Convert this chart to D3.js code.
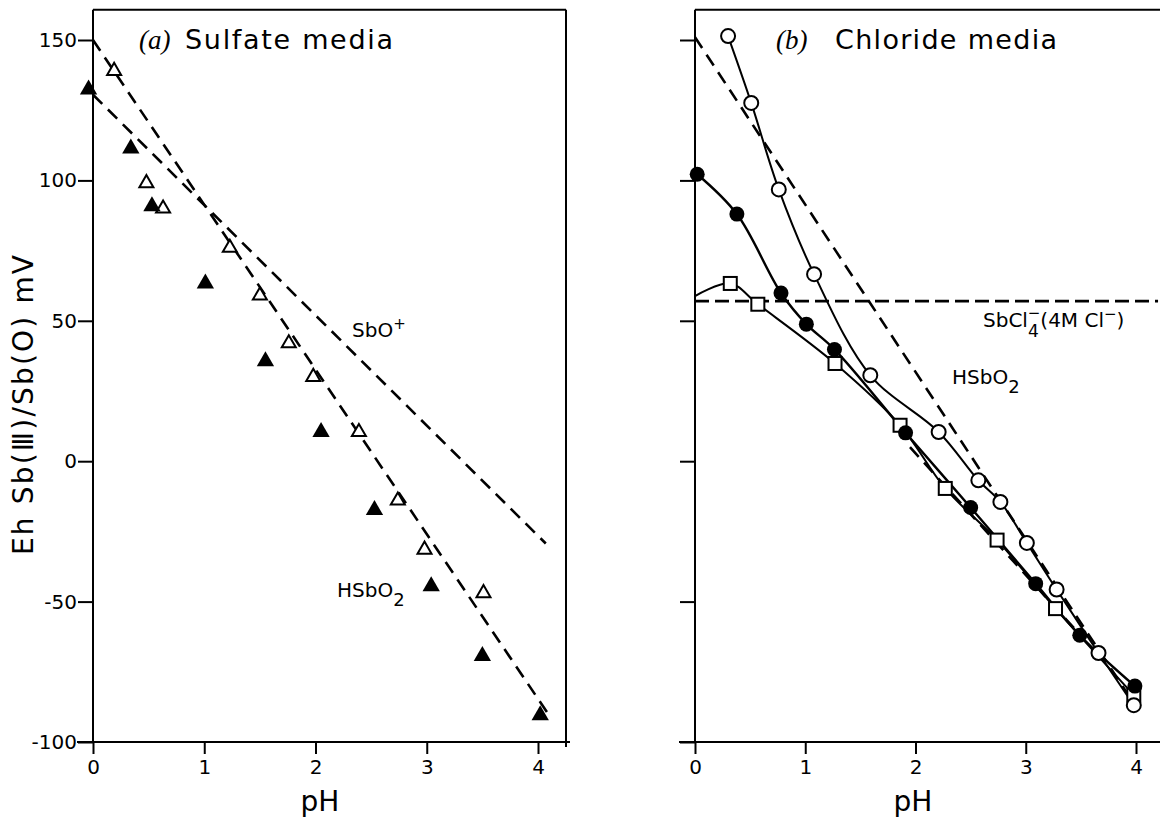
<!DOCTYPE html>
<html><head><meta charset="utf-8">
<script src="https://cdn.jsdelivr.net/npm/d3@7"></script>
<style>
html,body{margin:0;padding:0;background:#fff;}
svg{display:block;}
text{font-family:"DejaVu Sans",sans-serif;fill:#000;}
</style></head>
<body>
<svg id="chart" width="1160" height="818"></svg>
<script>
// ---------- data ----------
const pHTicks = [0, 1, 2, 3, 4];
const ehTicks = [150, 100, 50, 0, -50, -100];
const ehTickLabels = ["150", "100", "50", "0", "-50", "-100"];

// (a) Sulfate media
const sulfOpenTri = [[0.19,139],[0.48,99],[0.63,90],[1.23,76],[1.50,59],[1.76,42],[1.98,30],[2.39,10.4],[2.74,-14],[2.98,-31.5],[3.51,-47]];
const sulfFilledTri = [[-0.04,132.4],[0.34,111.4],[0.53,90.8],[1.01,63.3],[1.55,35.6],[2.05,10.4],[2.53,-17.4],[3.04,-44.5],[3.50,-69.4],[4.02,-90.5]];
const sulfSbOLine = [[0,130.5],[4.07,-29.3]];
const sulfHSbO2Line = [[0,150],[4.08,-89.3]];

// (b) Chloride media
const chlOpenCirc = [[0.30,151.4],[0.51,127.6],[0.76,96.8],[1.08,66.6],[1.59,30.6],[2.21,10.4],[2.57,-6.8],[2.77,-14.5],[3.01,-29.1],[3.28,-45.7],[3.66,-68.3],[3.98,-86.9]];
const chlFilledCirc = [[0.02,102.2],[0.38,88],[0.78,59.9],[1.01,48.8],[1.265,39.8],[1.91,10.1],[2.50,-16.5],[3.09,-43.6],[3.49,-62],[3.99,-80.1]];
const chlSquares = [[0.32,63.3],[0.57,55.9],[1.27,34.8],[1.86,12.8],[2.27,-9.7],[2.74,-28.1],[3.27,-52.5],[3.98,-83.3]];
const chlSquareCurveStart = [0, 58.8];
const chlHSbO2Line = [[0,151],[4,-87.4]];
const chlSbCl4Line = [[0,57],[4.2,57]];
const chlLowDash = [[1.95,5],[3.45,-60]];

// ---------- layout ----------
const svg = d3.select("#chart");
const y = d3.scaleLinear().domain([-100, 150]).range([742, 40]);
const xL = d3.scaleLinear().domain([0, 4]).range([93, 538]);
const xR = d3.scaleLinear().domain([0, 4]).range([695, 1136]);
const yTop = y(160.8);

const dashLine = (x) => d3.line().x(d => x(d[0])).y(d => y(d[1]));
const curveLine = (x) => d3.line().x(d => x(d[0])).y(d => y(d[1])).curve(d3.curveCatmullRom.alpha(0.5));

function frame(g, x, rightEdge, drawRight) {
  const x0 = x(0);
  g.append("line").attr("x1", x0).attr("x2", x0).attr("y1", yTop).attr("y2", y(-100))
    .attr("stroke", "#000").attr("stroke-width", 2);
  g.append("line").attr("x1", x0).attr("x2", rightEdge).attr("y1", yTop).attr("y2", yTop)
    .attr("stroke", "#000").attr("stroke-width", 2);
  g.append("line").attr("x1", x0 - 16).attr("x2", rightEdge + 4).attr("y1", y(-100)).attr("y2", y(-100))
    .attr("stroke", "#000").attr("stroke-width", 2);
  if (drawRight) {
    g.append("line").attr("x1", rightEdge).attr("x2", rightEdge).attr("y1", yTop).attr("y2", y(-100) + 5)
      .attr("stroke", "#000").attr("stroke-width", 2);
  }
}

function axes(g, x, withLabels) {
  const ay = d3.axisLeft(y).tickValues(ehTicks).tickSize(15).tickPadding(1)
    .tickFormat((d, i) => withLabels ? ehTickLabels[i] : "");
  const gy = g.append("g").attr("transform", `translate(${x(0)},0)`).call(ay);
  gy.select(".domain").remove();
  gy.selectAll("line").attr("stroke", "#000").attr("stroke-width", 2);
  gy.selectAll("text").attr("font-size", 20).attr("font-family", "DejaVu Sans Condensed, DejaVu Sans, sans-serif");

  const ax = d3.axisBottom(x).tickValues(pHTicks).tickSize(12).tickPadding(6).tickFormat(d3.format("d"));
  const gx = g.append("g").attr("transform", `translate(0,${y(-100)})`).call(ax);
  gx.select(".domain").remove();
  gx.selectAll("line").attr("stroke", "#000").attr("stroke-width", 2);
  gx.selectAll("text").attr("font-size", 20).attr("font-family", "DejaVu Sans Condensed, DejaVu Sans, sans-serif");
}

// ---------- panel (a) ----------
const ga = svg.append("g");
frame(ga, xL, 566, true);
axes(ga, xL, true);

ga.append("path").datum(sulfSbOLine).attr("d", dashLine(xL))
  .attr("fill", "none").attr("stroke", "#000").attr("stroke-width", 2.6).attr("stroke-dasharray", "13,8");
ga.append("path").datum(sulfHSbO2Line).attr("d", dashLine(xL))
  .attr("fill", "none").attr("stroke", "#000").attr("stroke-width", 2.6).attr("stroke-dasharray", "13,8");

const triOpen = d3.symbol().type(d3.symbolTriangle).size(85);
const triFilled = d3.symbol().type(d3.symbolTriangle).size(130);
ga.selectAll(".to").data(sulfOpenTri).join("path")
  .attr("d", triOpen).attr("transform", d => `translate(${xL(d[0])},${y(d[1])})`)
  .attr("fill", "#fff").attr("stroke", "#000").attr("stroke-width", 2);
ga.selectAll(".tf").data(sulfFilledTri).join("path")
  .attr("d", triFilled).attr("transform", d => `translate(${xL(d[0])},${y(d[1])})`)
  .attr("fill", "#000");

// titles and labels (a)
const ta = ga.append("text").attr("x", 139).attr("y", 49);
ta.append("tspan").attr("font-family", "Liberation Serif, serif").attr("font-style", "italic").attr("font-size", 27).text("(a)");
ga.append("text").attr("x", 185).attr("y", 49).attr("font-size", 27)
  .attr("textLength", 208).attr("lengthAdjust", "spacing").text("Sulfate media");

const sbo = ga.append("text").attr("x", 352).attr("y", 337).attr("font-size", 20);
sbo.append("tspan").text("SbO");
sbo.append("tspan").attr("dy", -8).attr("font-size", 15).text("+");

const hs1 = ga.append("text").attr("x", 337).attr("y", 597).attr("font-size", 20);
hs1.append("tspan").text("HSbO");
hs1.append("tspan").attr("dy", 9).attr("font-size", 18).text("2");

// ---------- panel (b) ----------
const gb = svg.append("g");
frame(gb, xR, 1166, false);
axes(gb, xR, false);

gb.append("path").datum(chlHSbO2Line).attr("d", dashLine(xR))
  .attr("fill", "none").attr("stroke", "#000").attr("stroke-width", 2.6).attr("stroke-dasharray", "13,8");
gb.append("path").datum(chlSbCl4Line).attr("d", dashLine(xR))
  .attr("fill", "none").attr("stroke", "#000").attr("stroke-width", 2.6).attr("stroke-dasharray", "14,6");
gb.append("path").datum(chlLowDash).attr("d", dashLine(xR))
  .attr("fill", "none").attr("stroke", "#000").attr("stroke-width", 2.6).attr("stroke-dasharray", "13,8");

gb.append("path").datum(chlOpenCirc).attr("d", curveLine(xR))
  .attr("fill", "none").attr("stroke", "#000").attr("stroke-width", 2);
gb.append("path").datum(chlFilledCirc).attr("d", curveLine(xR))
  .attr("fill", "none").attr("stroke", "#000").attr("stroke-width", 2.4);
gb.append("path").datum([chlSquareCurveStart].concat(chlSquares)).attr("d", curveLine(xR))
  .attr("fill", "none").attr("stroke", "#000").attr("stroke-width", 2);

gb.selectAll(".sq").data(chlSquares).join("rect")
  .attr("x", d => xR(d[0]) - 6.5).attr("y", d => y(d[1]) - 6.5).attr("width", 13).attr("height", 13)
  .attr("fill", "#fff").attr("stroke", "#000").attr("stroke-width", 2);
gb.selectAll(".fc").data(chlFilledCirc).join("circle")
  .attr("cx", d => xR(d[0])).attr("cy", d => y(d[1])).attr("r", 7.5).attr("fill", "#000");
gb.selectAll(".oc").data(chlOpenCirc).join("circle")
  .attr("cx", d => xR(d[0])).attr("cy", d => y(d[1])).attr("r", 7)
  .attr("fill", "#fff").attr("stroke", "#000").attr("stroke-width", 2);

const tb = gb.append("text").attr("x", 776).attr("y", 49);
tb.append("tspan").attr("font-family", "Liberation Serif, serif").attr("font-style", "italic").attr("font-size", 27).text("(b)");
gb.append("text").attr("x", 835).attr("y", 49).attr("font-size", 27)
  .attr("textLength", 222).attr("lengthAdjust", "spacing").text("Chloride media");

const sbcl = gb.append("text").attr("x", 983).attr("y", 327).attr("font-size", 20);
sbcl.append("tspan").text("SbCl");
sbcl.append("tspan").attr("dy", 10).attr("font-size", 17).text("4");
sbcl.append("tspan").attr("dx", -11).attr("dy", -19).attr("font-size", 15).text("−");
sbcl.append("tspan").attr("dy", 9).text("(4M Cl");
sbcl.append("tspan").attr("dy", -8).attr("font-size", 15).text("−");
sbcl.append("tspan").attr("dy", 8).text(")");

const hs2 = gb.append("text").attr("x", 952).attr("y", 384).attr("font-size", 20);
hs2.append("tspan").text("HSbO");
hs2.append("tspan").attr("dy", 9).attr("font-size", 18).text("2");

// ---------- axis titles ----------
svg.append("text").attr("x", 320).attr("y", 811).attr("text-anchor", "middle").attr("font-size", 28).text("pH");
svg.append("text").attr("x", 913).attr("y", 811).attr("text-anchor", "middle").attr("font-size", 28).text("pH");
svg.append("text").attr("transform", "translate(33,405) rotate(-90)").attr("text-anchor", "middle")
  .attr("font-size", 28).attr("textLength", 300).attr("lengthAdjust", "spacing").text("Eh  Sb(Ⅲ)/Sb(O)  mV");
</script>
</body></html>
